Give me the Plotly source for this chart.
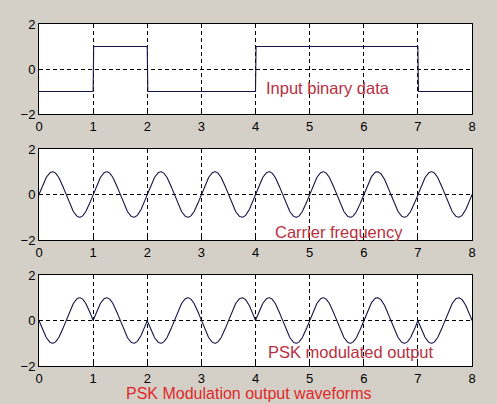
import numpy as np
import plotly.graph_objects as go

# ---- data ----
bits = [0, 1, 0, 0, 1, 1, 1, 0]          # input binary data
carrier_freq = 1                          # cycles per bit
samples_per_bit = 100
x_ticks = [0, 1, 2, 3, 4, 5, 6, 7, 8]
y_ticks = [-2, 0, 2]
panel_labels = ["Input binary data", "Carrier frequency", "PSK modulated output"]
title_text = "PSK Modulation output waveforms"

# ---- derived signals ----
levels = [2 * b - 1 for b in bits]
t = np.linspace(0, len(bits), len(bits) * samples_per_bit + 1)
idx = np.minimum((t * (1 - 1e-9)).astype(int), len(bits) - 1)
data_sig = np.array(levels)[idx]
carrier = np.sin(2 * np.pi * carrier_freq * t)
psk = carrier * data_sig

W, H = 497, 404
x0, x1 = 39 / W, 472 / W
panels = [(24, 114), (149, 240), (275, 366)]

fig = go.Figure()
line_col = "#141446"
signals = [data_sig, carrier, psk]
for i, (sig, (top, bot)) in enumerate(zip(signals, panels)):
    n = "" if i == 0 else str(i + 1)
    fig.add_trace(go.Scatter(x=t, y=sig, mode="lines",
                             line=dict(color=line_col, width=1.1),
                             xaxis="x" + n, yaxis="y" + n, showlegend=False,
                             hoverinfo="skip"))
    common = dict(showgrid=True, gridcolor="black", griddash="4px,3px", gridwidth=1,
                  zeroline=False, showline=True, linecolor="black", linewidth=1,
                  mirror=True, ticks="inside", ticklen=4, tickcolor="black",
                  automargin=False,
                  tickfont=dict(family="Liberation Sans, Arial", size=13, color="black"))
    fig.update_layout(**{
        "xaxis" + n: dict(domain=[x0, x1], range=[0, 8], tickvals=x_ticks,
                          anchor="y" + n, **common),
        "yaxis" + n: dict(domain=[1 - bot / H, 1 - top / H], range=[-2, 2],
                          tickvals=y_ticks, anchor="x" + n, **common),
    })

label_pos = [(328, 88), (339, 232), (351, 352)]
for txt, (px, py) in zip(panel_labels, label_pos):
    fig.add_annotation(x=px / W, y=1 - py / H, xref="paper", yref="paper",
                       text=txt, showarrow=False,
                       font=dict(family="Liberation Sans, Arial", size=16.5, color="#b8303f"),
                       xanchor="center", yanchor="middle")

fig.add_annotation(x=249 / W, y=1 - 393 / H, xref="paper", yref="paper",
                   text=title_text, showarrow=False,
                   font=dict(family="Liberation Sans, Arial", size=16, color="#e02828"),
                   xanchor="center", yanchor="middle")

fig.update_layout(width=W, height=H,
                  margin=dict(l=0, r=0, t=0, b=0, pad=0, autoexpand=False),
                  paper_bgcolor="#d4d0c8", plot_bgcolor="white")

fig.write_html("out.html",
               config={"displayModeBar": False},
               post_script="document.body.style.margin='0';"
                           "document.body.style.background='#d4d0c8';"
                           "document.body.style.overflow='hidden';")
